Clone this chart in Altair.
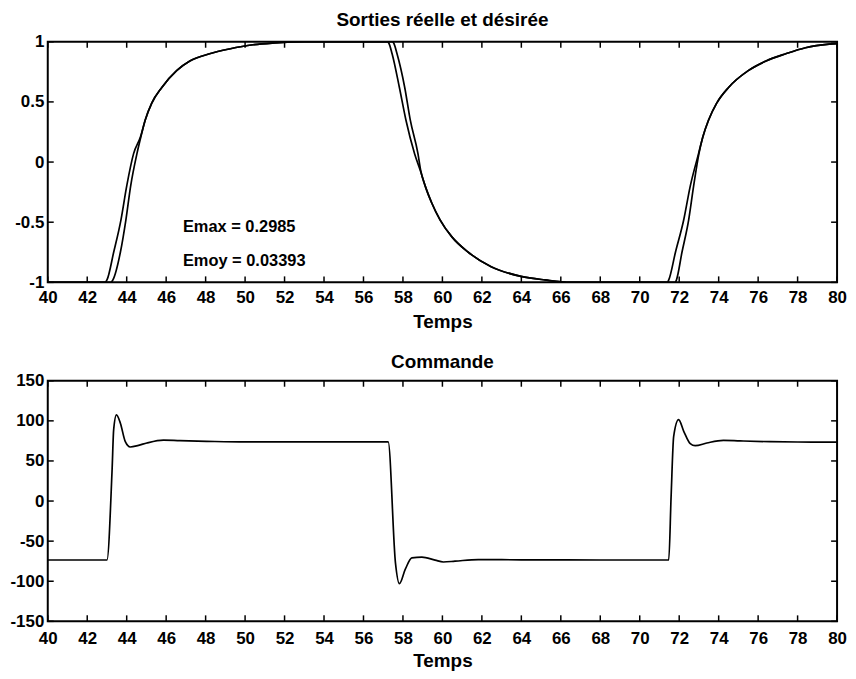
import altair as alt
import pandas as pd

# ---- data ----
# top panel: two output curves (leading / lagging), time and value
ta = [40, 42.9, 43.0, 43.34, 43.71, 44.0, 44.35, 44.7, 44.94, 45.27, 45.78, 46.53, 47.2, 48.2, 49.2, 50.4, 51.5, 53.0,
      57.2, 57.28, 57.45, 57.82, 58.15, 58.59, 58.88, 59.13, 59.46, 59.88, 60.47, 61.31, 62.47, 63.98, 65.2, 66.5,
      71.4, 71.47, 71.81, 72.23, 72.56, 72.98, 73.2, 73.49, 73.9, 74.5, 75.5, 76.4, 77.4, 78.4, 79.6, 80.0]
ya = [-1, -1, -0.98, -0.75, -0.48, -0.2, 0.07, 0.21, 0.35, 0.49, 0.62, 0.76, 0.84, 0.90, 0.94, 0.975, 0.99, 1.0,
      1.0, 0.99, 0.90, 0.62, 0.35, 0.07, -0.07, -0.2, -0.34, -0.48, -0.62, -0.75, -0.87, -0.95, -0.98, -1.0,
      -1.0, -0.98, -0.75, -0.48, -0.2, 0.07, 0.21, 0.35, 0.49, 0.62, 0.76, 0.84, 0.90, 0.95, 0.98, 0.985]
tb = [40, 43.2, 43.3, 43.68, 43.96, 44.2, 44.52, 44.72, 44.94, 45.27, 45.78, 46.53, 47.2, 48.2, 49.2, 50.4, 51.5, 53.0,
      57.45, 57.53, 57.7, 58.09, 58.37, 58.76, 58.9, 59.13, 59.46, 59.88, 60.47, 61.31, 62.47, 63.98, 65.2, 66.5,
      71.8, 71.86, 72.14, 72.48, 72.73, 73.0, 73.2, 73.49, 73.9, 74.5, 75.5, 76.4, 77.4, 78.4, 79.6, 80.0]
yb = [-1, -1, -0.98, -0.75, -0.48, -0.2, 0.07, 0.21, 0.35, 0.49, 0.62, 0.76, 0.84, 0.90, 0.94, 0.975, 0.99, 1.0,
      1.0, 0.99, 0.90, 0.62, 0.35, 0.07, -0.07, -0.2, -0.34, -0.48, -0.62, -0.75, -0.87, -0.95, -0.98, -1.0,
      -1.0, -0.98, -0.75, -0.48, -0.2, 0.07, 0.21, 0.35, 0.49, 0.62, 0.76, 0.84, 0.90, 0.95, 0.98, 0.985]

# bottom panel: command signal
tu = [40, 43.0, 43.26, 43.34, 43.48, 43.68, 43.93, 44.18, 44.6, 45.02, 45.86, 46.7, 48.05, 50, 54, 57.25,
      57.62, 57.82, 58.12, 58.45, 58.96, 59.63, 60.05, 60.64, 61.81, 64, 68, 71.47,
      71.59, 71.72, 71.97, 72.23, 72.56, 72.81, 73.4, 74.24, 75.08, 76.6, 78, 80]
u = [-73.5, -73.5, 39, 89, 107.5, 97, 74, 67.4, 69.5, 72.4, 76.0, 75.3, 74.5, 73.7, 73.7, 73.7,
     -77, -103, -85, -70.8, -70, -73.7, -76, -75, -73, -73.3, -73.5, -73.5,
     6, 80.7, 101.5, 87, 71.6, 69, 72.4, 75.7, 75, 74, 73.6, 73.4]

x_ticks = list(range(40, 81, 2))
y1_ticks = [-1, -0.5, 0, 0.5, 1]
y2_ticks = [-150, -100, -50, 0, 50, 100, 150]

title_top = "Sorties réelle et désirée"
title_bot = "Commande"
x_title = "Temps"
note_text = ["Emax = 0.2985", "Emoy = 0.03393"]
note_t = [46.85, 46.85]
note_v = [-0.578, -0.868]

W, H = 794, 242
FONT = "Liberation Sans"
MINUS_FIX = "replace(datum.label, '\u2212', '-')"

df_top = pd.concat([
    pd.DataFrame({"t": ta, "v": ya, "s": "reelle"}),
    pd.DataFrame({"t": tb, "v": yb, "s": "desiree"}),
])
df_bot = pd.DataFrame({"t": tu, "v": u})
df_xt = pd.DataFrame({"t": x_ticks})
df_y1 = pd.DataFrame({"v": y1_ticks})
df_y2 = pd.DataFrame({"v": y2_ticks})
df_note = pd.DataFrame({"t": note_t, "v": note_v, "txt": note_text})

xs = alt.Scale(domain=[40, 80], nice=False, zero=False)
ys1 = alt.Scale(domain=[-1, 1], nice=False, zero=False)
ys2 = alt.Scale(domain=[-150, 150], nice=False, zero=False)


def xaxis(label_pad, title_pad):
    return alt.Axis(values=x_ticks, title=x_title, format="d",
                    titleFont=FONT, titleFontSize=19, titleFontWeight="bold", titlePadding=title_pad,
                    labelPadding=label_pad, labelFlush=False)


def yaxis(vals, fmt):
    return alt.Axis(values=vals, title=None, labelPadding=4, labelFlush=False, format=fmt,
                    labelExpr=MINUS_FIX)


def panel(df_lines, yscale, yticks_df, yvals, fmt, xax, extra=None, detail=True, title="", title_offset=10):
    X = alt.X("t:Q", scale=xs, axis=xax)
    Y = alt.Y("v:Q", scale=yscale, axis=yaxis(yvals, fmt))
    enc = dict(x=X, y=Y)
    if detail:
        enc["detail"] = "s:N"
    lines = alt.Chart(df_lines).mark_line(color="black", strokeWidth=1.7, clip=True,
                                          interpolate="monotone").encode(**enc)
    tick_top = alt.Chart(df_xt).mark_rule(color="black", strokeWidth=1.5).encode(
        x=X, y=alt.value(0), y2=alt.value(6))
    tick_bot = alt.Chart(df_xt).mark_rule(color="black", strokeWidth=1.5).encode(
        x=X, y=alt.value(H - 6), y2=alt.value(H))
    tick_l = alt.Chart(yticks_df).mark_rule(color="black", strokeWidth=1.5).encode(
        y=Y, x=alt.value(0), x2=alt.value(6))
    tick_r = alt.Chart(yticks_df).mark_rule(color="black", strokeWidth=1.5).encode(
        y=Y, x=alt.value(W - 6), x2=alt.value(W))
    layers = [lines, tick_top, tick_bot, tick_l, tick_r]
    if extra is not None:
        layers.append(extra.encode(x=X, y=Y))
    return alt.layer(*layers).properties(
        width=W, height=H,
        title=alt.TitleParams(title, font=FONT, fontSize=19, fontWeight="bold",
                              anchor="middle", offset=title_offset, color="black"))


notes = alt.Chart(df_note).mark_text(align="left", baseline="alphabetic", font=FONT,
                                     fontSize=16.5, fontWeight="bold", color="black").encode(text="txt:N")

top = panel(df_top, ys1, df_y1, y1_ticks, "", xaxis(7, 7), extra=notes, detail=True,
            title=title_top, title_offset=3)
bot = panel(df_bot, ys2, df_y2, y2_ticks, "d", xaxis(9, 5), detail=False,
            title=title_bot, title_offset=0)

chart = alt.vconcat(top, bot, spacing=20).properties(
    padding={"left": 0, "top": 0, "right": 0, "bottom": 0}
).configure_view(stroke="black", strokeWidth=2).configure_axis(
    domain=False, ticks=False, grid=False, labelFont=FONT, labelFontSize=17, labelFontWeight="bold",
    labelColor="black", titleColor="black"
)

chart.save("out.html", embed_options={"renderer": "svg", "actions": False})
